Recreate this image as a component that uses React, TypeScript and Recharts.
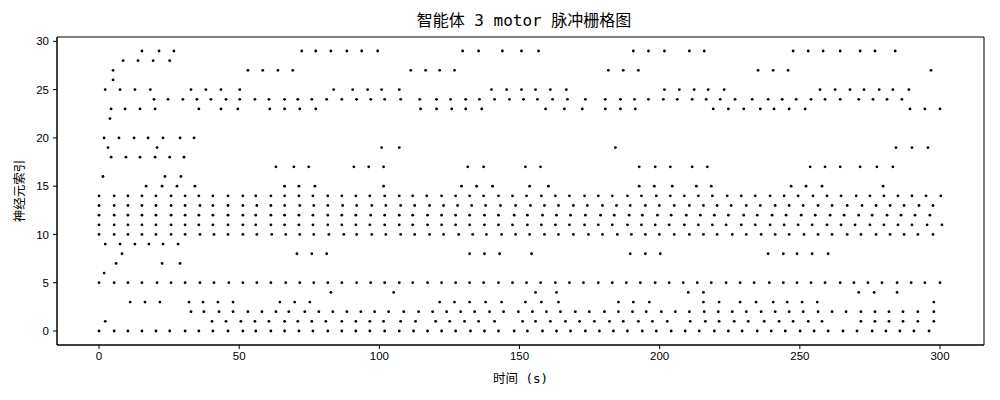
import React from 'react';
import { ScatterChart, Scatter, XAxis, YAxis, ReferenceArea } from 'recharts';

const chartTitle = '智能体 3 motor 脉冲栅格图';
const xLabel = '时间 (s)';
const yLabel = '神经元索引';
const xTicks = [0, 50, 100, 150, 200, 250, 300];
const yTicks = [0, 5, 10, 15, 20, 25, 30];

// spike times (s) for neurons 0..29
const spikeTimes: number[][] = [
  /* 0 */ [0.0, 5.4, 10.3, 15.3, 20.3, 25.2, 30.7, 35.6, 40.6, 46.0, 51.3, 55.9, 61.3, 66.2, 71.3, 76.3, 81.6, 86.6, 91.6, 96.6, 101.9, 107.1, 112.2, 117.2, 122.2, 127.2, 132.5, 137.5, 142.5, 148.1, 152.8, 158.2, 163.2, 168.2, 173.5, 178.5, 183.5, 188.5, 193.8, 198.8, 204.1, 209.1, 214.1, 219.5, 224.5, 229.4, 234.8, 239.8, 244.8, 250.1, 255.1, 260.1, 265.4, 270.4, 275.8, 280.7, 285.7, 290.7, 296.1],
  /* 1 */ [2.2, 40.3, 45.3, 50.6, 55.6, 60.6, 66.2, 70.9, 75.9, 80.9, 86.6, 91.6, 96.6, 101.5, 107.6, 112.9, 120.1, 125.1, 130.4, 135.4, 141.1, 151.1, 155.7, 161.0, 166.4, 171.4, 176.7, 182.1, 187.0, 192.4, 197.4, 202.7, 210.9, 216.3, 221.2, 226.6, 231.6, 237.3, 242.6, 247.6, 253.0, 257.9, 271.8, 276.8, 281.8, 286.8, 292.1, 297.8],
  /* 2 */ [32.8, 37.4, 42.8, 47.8, 53.1, 58.1, 63.1, 67.7, 73.4, 78.4, 83.4, 88.4, 93.4, 98.3, 103.3, 108.7, 114.0, 119.0, 124.0, 129.0, 134.0, 139.3, 144.3, 149.6, 154.6, 159.6, 164.6, 169.9, 174.9, 180.3, 185.3, 190.3, 195.2, 200.6, 205.6, 210.6, 215.9, 220.9, 225.9, 230.9, 236.2, 241.2, 246.2, 251.2, 256.5, 261.5, 266.5, 271.8, 276.8, 281.8, 286.8, 292.1, 297.8],
  /* 3 */ [11.1, 16.4, 21.7, 32.1, 37.1, 42.4, 47.8, 64.5, 69.8, 75.2, 121.5, 126.8, 132.2, 137.9, 143.6, 152.1, 157.8, 163.9, 185.3, 190.6, 196.3, 215.6, 221.2, 228.7, 234.4, 240.5, 245.5, 250.8, 256.2, 297.8],
  /* 4 */ [82.7, 105.1, 155.7, 163.2, 210.2, 215.6, 271.0, 276.5, 284.7],
  /* 5 */ [0.0, 5.4, 10.3, 15.3, 20.7, 25.7, 30.7, 36.0, 41.0, 46.3, 51.3, 56.3, 61.3, 66.6, 71.6, 76.6, 81.6, 86.6, 91.9, 96.9, 101.9, 107.1, 111.9, 117.2, 122.2, 127.2, 132.2, 137.2, 142.5, 147.5, 152.5, 157.5, 162.8, 167.8, 172.8, 178.1, 183.1, 188.1, 193.1, 198.4, 203.4, 208.4, 213.4, 218.4, 223.7, 228.7, 233.7, 239.1, 244.1, 249.0, 254.0, 259.0, 264.4, 269.3, 274.3, 279.3, 284.7, 289.7, 294.6, 300.0],
  /* 6 */ [1.8],
  /* 7 */ [6.1, 22.5, 28.9],
  /* 8 */ [8.2, 70.6, 75.9, 81.2, 132.2, 137.5, 142.9, 154.3, 189.5, 194.9, 200.2, 238.7, 244.1, 249.0, 254.4, 260.1],
  /* 9 */ [2.2, 7.5, 12.8, 17.8, 22.8, 28.2],
  /* 10 */ [0.0, 5.4, 10.3, 15.3, 20.3, 25.7, 30.7, 36.0, 41.0, 46.0, 51.3, 56.3, 61.6, 66.6, 71.6, 76.6, 82.0, 87.3, 91.9, 97.3, 102.3, 107.6, 112.6, 117.9, 122.9, 128.3, 133.3, 138.2, 143.6, 148.6, 153.6, 158.9, 163.9, 169.2, 174.6, 179.6, 184.9, 189.9, 194.9, 199.9, 205.2, 210.6, 215.6, 220.5, 225.9, 230.9, 236.2, 241.2, 246.2, 251.5, 256.5, 261.5, 266.9, 271.8, 277.2, 282.2, 287.2, 292.1, 297.5],
  /* 11 */ [0.0, 5.4, 10.3, 15.3, 20.3, 25.7, 30.7, 35.6, 40.6, 46.0, 51.3, 55.9, 61.3, 66.2, 71.3, 76.3, 81.6, 86.6, 91.6, 96.6, 101.9, 107.1, 111.9, 117.2, 122.2, 127.2, 132.2, 137.5, 142.5, 147.5, 152.8, 157.8, 162.8, 167.8, 173.2, 178.1, 183.1, 188.5, 193.5, 198.4, 203.4, 208.8, 213.8, 218.8, 223.7, 229.1, 234.1, 239.4, 244.4, 249.4, 254.4, 259.7, 264.7, 269.7, 275.0, 280.0, 285.0, 290.0, 295.4, 300.7],
  /* 12 */ [0.0, 5.4, 10.3, 15.3, 20.3, 25.7, 30.7, 35.6, 40.6, 46.0, 51.3, 55.9, 61.3, 66.2, 71.3, 76.3, 81.6, 86.6, 91.6, 96.9, 101.9, 107.1, 111.9, 117.2, 122.2, 127.2, 132.2, 137.5, 142.5, 148.1, 152.8, 158.2, 163.2, 168.2, 173.5, 178.9, 183.8, 189.1, 193.8, 199.2, 204.1, 209.5, 214.5, 219.5, 224.5, 230.0, 234.8, 240.1, 245.1, 250.5, 255.5, 260.8, 265.8, 271.0, 275.8, 281.1, 286.1, 291.1, 296.4],
  /* 13 */ [0.0, 5.4, 10.3, 15.3, 20.3, 25.7, 30.7, 36.0, 40.6, 46.0, 51.3, 56.3, 61.3, 66.2, 71.6, 76.6, 81.6, 86.9, 91.9, 97.3, 102.3, 107.6, 112.6, 117.9, 122.9, 127.9, 132.9, 137.9, 143.2, 148.6, 153.9, 158.9, 163.9, 169.2, 174.2, 179.6, 184.6, 189.5, 194.9, 199.9, 205.2, 210.6, 215.6, 220.5, 225.5, 230.9, 235.9, 241.2, 246.2, 251.2, 256.5, 261.5, 266.9, 272.2, 277.2, 282.2, 287.2, 292.5, 297.5],
  /* 14 */ [0.0, 5.4, 10.3, 15.3, 20.3, 25.7, 30.7, 35.6, 40.6, 46.0, 51.3, 55.9, 61.3, 66.2, 71.3, 76.3, 81.6, 86.6, 91.6, 96.6, 101.9, 107.1, 111.9, 116.9, 122.2, 127.2, 132.2, 137.2, 142.5, 147.5, 152.5, 157.8, 162.8, 167.8, 173.2, 178.1, 183.1, 188.5, 193.5, 198.8, 203.8, 208.8, 213.8, 218.8, 224.1, 229.1, 234.1, 239.4, 244.4, 249.4, 254.7, 259.7, 264.7, 270.1, 275.0, 280.0, 285.0, 290.0, 295.0, 300.3],
  /* 15 */ [16.8, 22.5, 27.8, 34.2, 66.2, 71.3, 77.0, 101.5, 129.3, 134.7, 140.4, 153.6, 160.3, 192.7, 198.1, 204.5, 213.1, 218.4, 246.9, 252.2, 257.9, 279.7],
  /* 16 */ [1.4, 23.5, 29.2],
  /* 17 */ [63.1, 69.5, 74.8, 90.9, 96.2, 101.5, 131.5, 137.2, 152.1, 157.5, 192.7, 198.4, 203.8, 211.6, 217.0, 253.7, 259.0, 264.4, 271.5, 277.5, 283.2],
  /* 18 */ [4.3, 9.6, 14.6, 20.0, 25.2, 30.3],
  /* 19 */ [3.2, 20.7, 100.8, 107.1, 184.2, 284.3, 290.0, 295.7],
  /* 20 */ [1.8, 7.1, 12.5, 17.5, 22.8, 28.9, 33.9],
  /* 21 */ [],
  /* 22 */ [3.9],
  /* 23 */ [4.3, 9.3, 14.6, 20.0, 35.6, 43.5, 49.5, 60.9, 66.2, 71.6, 77.3, 114.7, 120.4, 125.8, 130.8, 136.5, 159.3, 166.0, 172.4, 180.6, 186.0, 191.3, 219.1, 224.5, 230.0, 235.9, 240.8, 246.2, 251.9, 289.3, 294.6, 300.0],
  /* 24 */ [19.6, 24.6, 29.9, 34.9, 39.9, 45.3, 50.2, 55.6, 60.6, 66.2, 70.9, 75.9, 81.2, 86.6, 91.9, 96.9, 101.9, 107.6, 114.4, 120.4, 125.4, 130.8, 135.7, 141.1, 146.4, 151.4, 156.4, 161.8, 167.1, 173.5, 180.6, 186.0, 191.0, 196.0, 201.3, 206.3, 211.6, 216.6, 221.6, 226.9, 233.0, 238.7, 243.7, 248.7, 254.0, 259.0, 264.4, 271.0, 276.1, 281.1, 286.4],
  /* 25 */ [2.2, 7.5, 12.8, 18.3, 32.8, 38.1, 43.5, 50.2, 83.7, 90.5, 95.8, 100.8, 107.1, 140.0, 145.4, 150.7, 155.7, 161.0, 166.7, 201.7, 207.0, 212.3, 217.3, 223.0, 257.2, 262.6, 267.9, 272.9, 278.3, 283.2, 288.9],
  /* 26 */ [5.0],
  /* 27 */ [5.0, 53.1, 58.4, 63.8, 69.1, 111.2, 116.5, 121.5, 126.8, 181.7, 187.0, 192.4, 235.1, 240.5, 245.8, 296.8],
  /* 28 */ [8.6, 13.9, 19.3, 25.2],
  /* 29 */ [15.3, 21.4, 26.7, 72.3, 77.3, 82.7, 88.4, 93.7, 99.4, 129.7, 135.4, 143.9, 150.7, 156.8, 190.6, 196.0, 201.7, 210.6, 215.9, 247.6, 253.0, 258.3, 264.4, 271.5, 276.8, 284.0],
];

const points = spikeTimes.flatMap((ts, n) => ts.map((t) => ({ t, n })));

const X_DOMAIN: [number, number] = [-15, 315.7];
const Y_DOMAIN: [number, number] = [-1.45, 30.45];

const tickFont = { fill: '#000', fontSize: 11.5, fontFamily: "'Liberation Sans', Arial, sans-serif" };
const cjkFont = "'DejaVu Sans Mono', 'Noto Sans CJK SC', sans-serif";

const Dot = (props: any) => {
  const { cx, cy } = props;
  if (cx == null || cy == null) return null;
  return <circle cx={cx} cy={cy} r={1.4} fill="#000" />;
};

export default function App() {
  return (
    <div style={{ position: 'absolute', left: 0, top: 0, width: 1000, height: 400, background: '#fff' }}>
      <div
        style={{
          position: 'absolute',
          left: 0,
          width: 1048,
          top: 11,
          textAlign: 'center',
          fontFamily: cjkFont,
          fontSize: 16,
          lineHeight: '20px',
          color: '#000',
          whiteSpace: 'pre',
        }}
      >
        {chartTitle}
      </div>
      <ScatterChart width={1000} height={400} margin={{ top: 37, right: 16, bottom: 15, left: 0 }}>
        <XAxis
          type="number"
          dataKey="t"
          domain={X_DOMAIN}
          ticks={xTicks}
          allowDataOverflow
          height={40}
          tick={tickFont}
          tickSize={4}
          tickMargin={3}
          axisLine={{ stroke: '#000' }}
          tickLine={{ stroke: '#000' }}
          label={{ value: xLabel, position: 'insideBottom', offset: 2, style: { fill: '#000', fontSize: 12.5, fontFamily: cjkFont } }}
        />
        <YAxis
          type="number"
          dataKey="n"
          domain={Y_DOMAIN}
          ticks={yTicks}
          allowDataOverflow
          width={57}
          tick={tickFont}
          tickSize={4}
          tickMargin={4}
          axisLine={{ stroke: '#000' }}
          tickLine={{ stroke: '#000' }}
          label={{ value: yLabel, angle: -90, position: 'insideLeft', offset: 20, style: { fill: '#000', fontSize: 12.5, fontFamily: cjkFont, textAnchor: 'middle' } }}
        />
        <ReferenceArea
          x1={X_DOMAIN[0]}
          x2={X_DOMAIN[1]}
          y1={Y_DOMAIN[0]}
          y2={Y_DOMAIN[1]}
          fill="none"
          fillOpacity={0}
          stroke="#000"
          strokeWidth={1}
          ifOverflow="visible"
        />
        <Scatter data={points} shape={Dot} isAnimationActive={false} />
      </ScatterChart>
    </div>
  );
}
